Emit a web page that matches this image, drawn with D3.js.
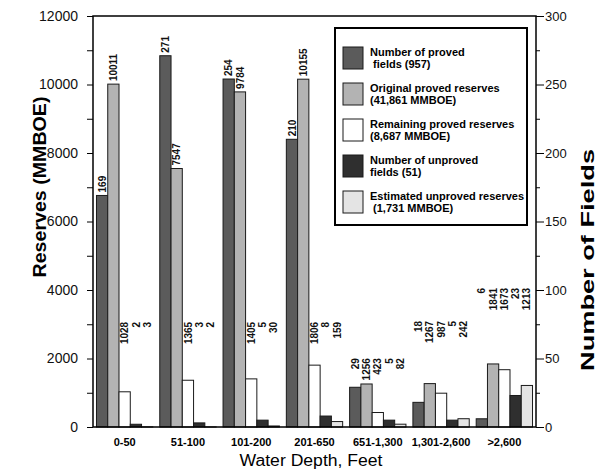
<!DOCTYPE html>
<html>
<head>
<meta charset="utf-8">
<script src="https://cdn.jsdelivr.net/npm/d3@7"></script>
<style>
body { margin: 0; background: #fff; }
svg { font-family: "Liberation Sans", Arial, sans-serif; }
</style>
</head>
<body>
<div id="chart"></div>
<script>
// values
var categories = ["0-50", "51-100", "101-200", "201-650", "651-1,300", "1,301-2,600", ">2,600"];
var provedFields = [169, 271, 254, 210, 29, 18, 6];
var originalReserves = [10011, 7547, 9784, 10155, 1256, 1267, 1841];
var remainingReserves = [1028, 1365, 1405, 1806, 423, 987, 1673];
var unprovedFields = [2, 3, 5, 8, 5, 5, 23];
var unprovedReserves = [3, 2, 30, 159, 82, 242, 1213];
var legendLines = [
    ["Number of proved", "\u00a0fields (957)"],
    ["Original proved reserves", "(41,861 MMBOE)"],
    ["Remaining proved reserves", "(8,687 MMBOE)"],
    ["Number of unproved", "fields (51)"],
    ["Estimated unproved reserves", "\u00a0(1,731 MMBOE)"]
];

var series = [
    {values: provedFields, axis: "fields", fill: "#5b5b5b"},
    {values: originalReserves, axis: "reserves", fill: "#b3b3b3"},
    {values: remainingReserves, axis: "reserves", fill: "#ffffff"},
    {values: unprovedFields, axis: "fields", fill: "#2f2f2f"},
    {values: unprovedReserves, axis: "reserves", fill: "#e4e4e4"}
];

var width = 598, height = 470;
var margin = {top: 16, right: 62, bottom: 43, left: 93};

// where the grouped value labels start (in reserve units), and which series join that group
var stackTop = [3070, 3070, 3070, 3070, 2010, 3100, 4060];
var stackFrom = [2, 2, 2, 2, 0, 0, 0];

var svg = d3.select("#chart").append("svg")
    .attr("width", width)
    .attr("height", height);

var x0 = d3.scaleBand()
    .domain(categories)
    .range([margin.left, width - margin.right])
    .paddingInner(0.11)
    .paddingOuter(0.055);

var x1 = d3.scaleBand()
    .domain(d3.range(series.length))
    .range([0, x0.bandwidth()]);

var y = d3.scaleLinear()
    .domain([0, 12000])
    .range([height - margin.bottom, margin.top]);

var y2 = d3.scaleLinear()
    .domain([0, 300])
    .range([height - margin.bottom, margin.top]);

function yOf(s){ return s.axis == "fields" ? y2 : y; }

// bars
var group = svg.selectAll(".grp")
    .data(categories)
    .enter().append("g")
    .attr("class", "grp")
    .attr("transform", function(d){ return "translate(" + x0(d) + ",0)"; });

group.each(function(cat, gi){
    var g = d3.select(this);
    series.forEach(function(s, si){
        var sc = yOf(s);
        g.append("rect")
            .attr("x", x1(si))
            .attr("width", x1.bandwidth())
            .attr("y", sc(s.values[gi]))
            .attr("height", sc(0) - sc(s.values[gi]))
            .attr("fill", s.fill)
            .attr("stroke", "#1a1a1a")
            .attr("stroke-width", 1);

        var cx = x1(si) + x1.bandwidth() / 2;
        var ty, anchor;
        if (si < stackFrom[gi]) {
            ty = sc(s.values[gi]) - 3;
            anchor = "start";
        } else {
            ty = y(stackTop[gi]);
            anchor = "end";
        }
        g.append("text")
            .attr("transform", "translate(" + cx + "," + ty + ") rotate(-90)")
            .attr("dy", "0.36em")
            .attr("text-anchor", anchor)
            .style("font-size", "10px")
            .style("font-weight", "bold")
            .attr("fill", "#111")
            .text(s.values[gi]);
    });
});

// left axis
var leftAxis = svg.append("g")
    .attr("transform", "translate(" + margin.left + ",0)")
    .call(d3.axisLeft(y)
        .tickValues(d3.range(0, 12001, 1000))
        .tickSize(6)
        .tickSizeOuter(0)
        .tickPadding(9)
        .tickFormat(function(d){ return d % 2000 ? "" : d; }));
leftAxis.select(".domain").remove();
leftAxis.selectAll("text").style("font-size", "14px").attr("fill", "#111");

// right axis: minor then major ticks
var rightMinor = svg.append("g")
    .attr("transform", "translate(" + (width - margin.right) + ",0)")
    .call(d3.axisRight(y2).tickValues(d3.range(25, 300, 50)).tickSize(4).tickFormat(""));
rightMinor.select(".domain").remove();

var rightAxis = svg.append("g")
    .attr("transform", "translate(" + (width - margin.right) + ",0)")
    .call(d3.axisRight(y2)
        .tickValues(d3.range(0, 301, 50))
        .tickSize(8)
        .tickSizeOuter(0)
        .tickPadding(1));
rightAxis.select(".domain").remove();
rightAxis.selectAll("text").style("font-size", "13px").attr("fill", "#111");

// frame round the plot
svg.append("rect")
    .attr("x", margin.left)
    .attr("y", margin.top)
    .attr("width", width - margin.left - margin.right)
    .attr("height", height - margin.top - margin.bottom)
    .attr("fill", "none")
    .attr("stroke", "#000")
    .attr("stroke-width", 1.5);

// category labels
svg.selectAll(".cat")
    .data(categories)
    .enter().append("text")
    .attr("class", "cat")
    .attr("x", function(d){ return x0(d) + x0.bandwidth() / 2; })
    .attr("y", 446)
    .attr("text-anchor", "middle")
    .style("font-size", "11px")
    .style("font-weight", "bold")
    .text(function(d){ return d; });

// axis titles
svg.append("text")
    .attr("transform", "translate(46,187) rotate(-90)")
    .attr("text-anchor", "middle")
    .attr("textLength", 181)
    .attr("lengthAdjust", "spacingAndGlyphs")
    .style("font-size", "18px")
    .style("font-weight", "bold")
    .text("Reserves (MMBOE)");

svg.append("text")
    .attr("transform", "translate(594,260) rotate(-90)")
    .attr("text-anchor", "middle")
    .attr("textLength", 222)
    .attr("lengthAdjust", "spacingAndGlyphs")
    .style("font-size", "18px")
    .style("font-weight", "bold")
    .text("Number of Fields");

svg.append("text")
    .attr("x", 311)
    .attr("y", 466)
    .attr("text-anchor", "middle")
    .attr("textLength", 143)
    .attr("lengthAdjust", "spacingAndGlyphs")
    .style("font-size", "16px")
    .text("Water Depth, Feet");

// legend
var legend = svg.append("g");
legend.append("rect")
    .attr("x", 335).attr("y", 28)
    .attr("width", 192).attr("height", 197)
    .attr("fill", "#fff")
    .attr("stroke", "#000")
    .attr("stroke-width", 2);

var item = legend.selectAll(".item")
    .data(series)
    .enter().append("g")
    .attr("class", "item")
    .attr("transform", function(d, i){ return "translate(343," + (47 + i * 36) + ")"; });

item.append("rect")
    .attr("width", 20).attr("height", 22)
    .attr("fill", function(d){ return d.fill; })
    .attr("stroke", "#1a1a1a");

item.each(function(d, i){
    var t = d3.select(this).append("text")
        .attr("x", 27)
        .style("font-size", "11px")
        .style("font-weight", "bold");
    t.append("tspan").attr("x", 27).attr("y", 9).text(legendLines[i][0]);
    t.append("tspan").attr("x", 27).attr("y", 21).text(legendLines[i][1]);
});
</script>
</body>
</html>
